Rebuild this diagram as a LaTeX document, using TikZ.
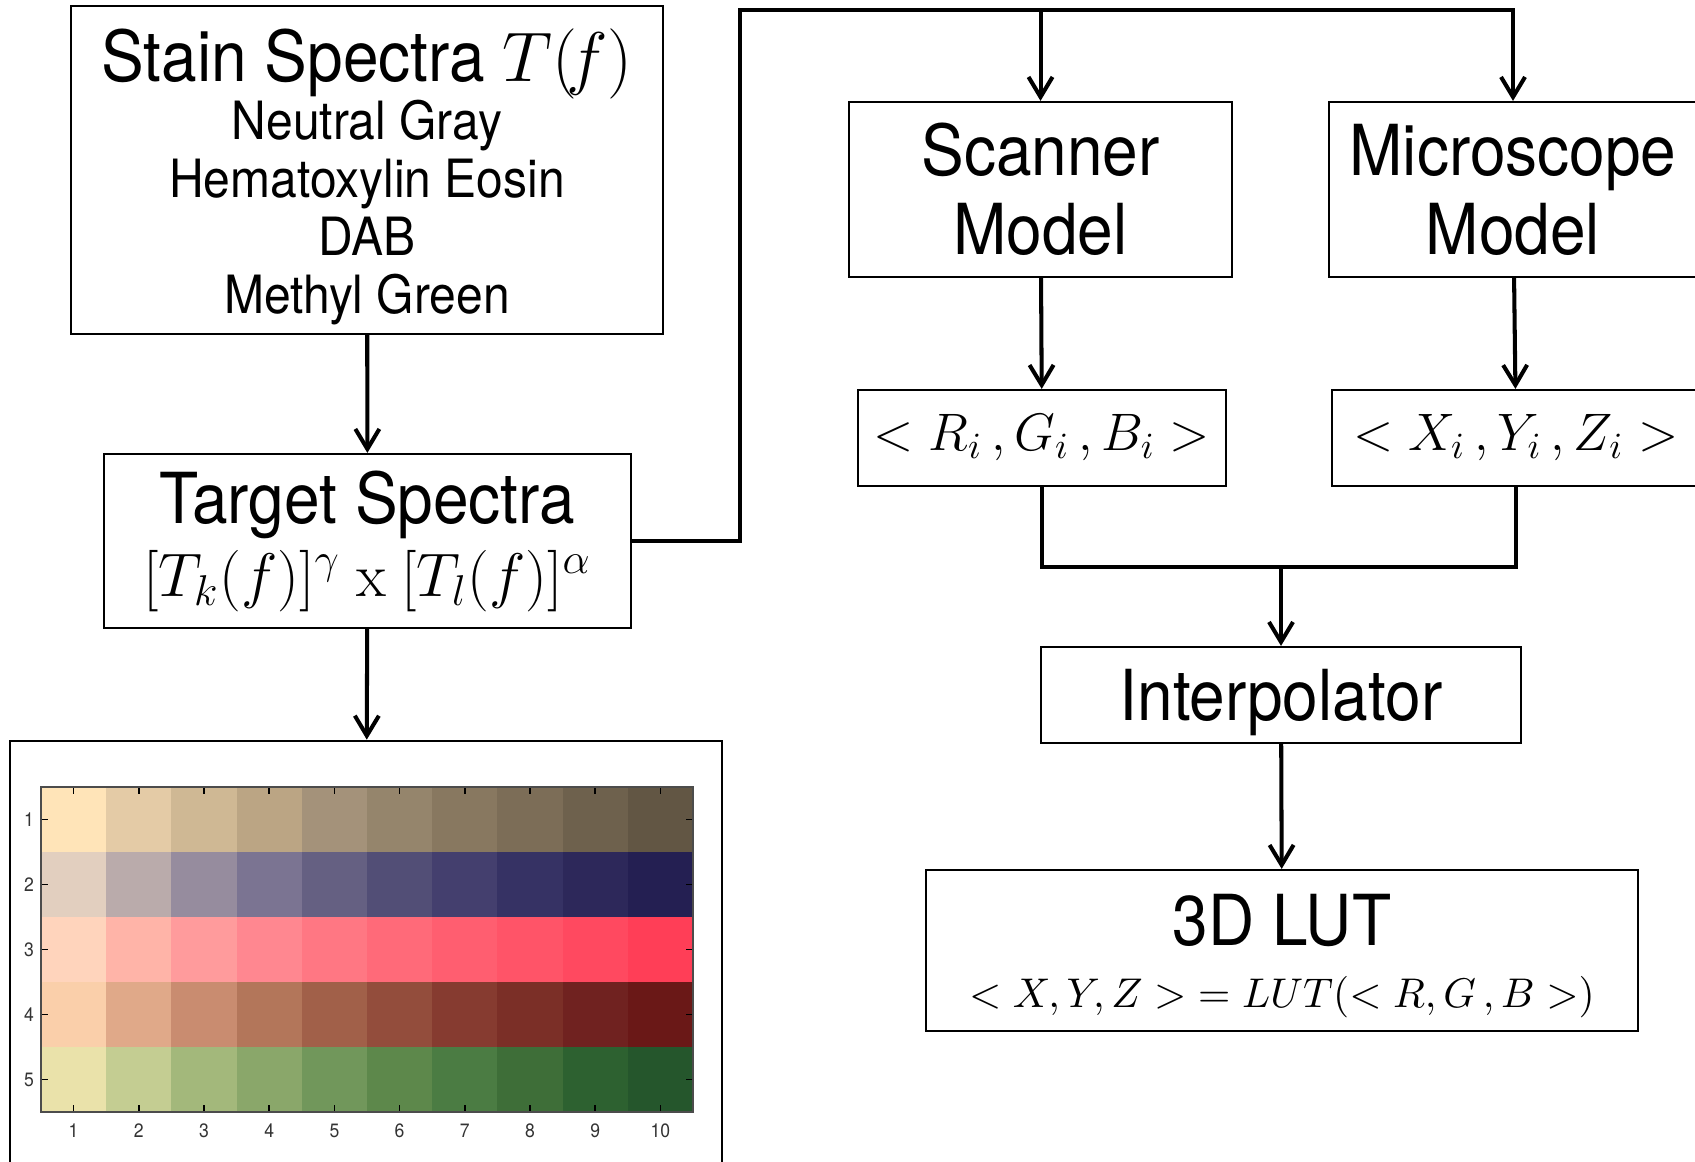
\RequirePackage{fix-cm}
\documentclass[tikz,border=0pt]{standalone}
\usepackage[no-math]{fontspec}
\setmainfont{TeX Gyre Heros}[FakeStretch=0.91]
\usetikzlibrary{arrows.meta}

\begin{document}
\begin{tikzpicture}[x=0.01cm, y=-0.01cm,
 block/.style={draw, line width=0.6pt, inner sep=0pt, align=center},
 big/.style={font=\fontsize{20}{22.5}\selectfont},
 wire/.style={line width=1.15pt},
 flow/.style={wire, -{Straight Barb[length=2mm, width=2.4mm]}},
 tick/.style={inner sep=0pt, text=black!80, font=\fontsize{5.5}{6}\selectfont}]

\useasboundingbox (0,0) rectangle (1695,1161);

 \node (stain) at (367,170) [block, minimum width=5.92cm, minimum height=3.28cm, font=\fontsize{15}{16.5}\selectfont]
 {{\fontsize{20}{20}\selectfont\rule{0pt}{18.7pt}Stain Spectra $T(\!f)$}\\[0pt]
  Neutral Gray\\Hematoxylin Eosin\\DAB\\Methyl Green};
 \node (target) at (367.5,541) [block, minimum width=5.27cm, minimum height=1.74cm, font=\fontsize{20}{20.8}\selectfont]
 {Target Spectra\\{\fontsize{17.5}{20}\selectfont $[T_k(f)]^\gamma\ \mathrm{x}\ [T_l(f)]^\alpha$}};
 \node (chart) at (366,952) [draw, line width=0.7pt, minimum width=7.12cm, minimum height=4.22cm] {};

 \node (scanner) at (1040.5,189.5) [block, big, minimum width=3.83cm, minimum height=1.75cm] {Scanner\\Model};
 \node (micro) at (1513,189.5) [block, big, minimum width=3.68cm, minimum height=1.75cm] {Microscope\\Model};
 \node (rgb) at (1042,438) [block, minimum width=3.68cm, minimum height=0.96cm, font=\fontsize{15}{17}\selectfont]
 {$<R_i\,, G_i\,, B_i>$};
 \node (xyz) at (1516,438) [block, minimum width=3.68cm, minimum height=0.96cm, font=\fontsize{15}{17}\selectfont]
 {$<X_i\,, Y_i\,, Z_i>$};
 \node (interp) at (1281,695) [block, big, text depth=0pt, minimum width=4.8cm, minimum height=0.96cm] {Interpolator};
 \node (lut) at (1282,950.5) [block, minimum width=7.12cm, minimum height=1.61cm, font=\fontsize{20}{17.6}\selectfont]
 {\rule{0pt}{17.5pt}3D LUT\\{\fontsize{11.8}{14}\selectfont $<X, Y, Z>\;= LUT(<R, G\,, B>)$}};

 \coordinate (top) at (740,10);
 \coordinate (join) at (1281,567);

 \draw [flow] (stain) -- (target);
 \draw [flow] (target) -- (chart);
 \draw [flow] (target.east) -| (top) -| (micro.north);
 \draw [flow] (scanner.north |- top) -- (scanner.north);
 \draw [flow] (scanner) -- (rgb);
 \draw [flow] (micro) -- (xyz);
 \draw [wire] (rgb.south) |- (join) -| (xyz.south);
 \draw [flow] (join) -- (interp);
 \draw [flow] (interp) -- (lut);

 \foreach \row [count=\i] in {
  {FFE4B8,E4CBA6,CFB894,BBA584,A4927A,95856C,887860,7C6D57,6E614D,625644},
  {E2CFBF,BAABAB,968C9E,7B7492,656082,524E76,443F6E,363264,2D285A,241F52},
  {FFD4BC,FFB4A8,FF9B9C,FF8790,FF7783,FF6A79,FF5E70,FF5468,FF4960,FF3E57},
  {FACFAA,E0A989,C98C70,B3765A,A16049,934D3C,863B30,7B2F27,702220,6A1817},
  {EAE2AA,C4CD92,A3B87B,8AA76A,71975B,5D884B,4B7C43,3E6E38,2D6130,25562C}} {
  \foreach \c [count=\j] in \row {
	  \definecolor{cell}{HTML}{\c}
	  \fill [cell] (41+65.2*\j-65.2,787+65*\i-65) rectangle ++(65.2,65);
	  }
  \draw [line width=0.5pt] (41,787+65*\i-32.5) -- ++(7,0);
  \draw [line width=0.5pt] (693,787+65*\i-32.5) -- ++(-7,0);
  \node (yl\i) at (29,787+65*\i-32.5) [tick] {\i};
 }
 \foreach \j in {1,...,10} {
  \draw [line width=0.5pt] (41+65.2*\j-32.6,787) -- ++(0,7);
  \draw [line width=0.5pt] (41+65.2*\j-32.6,1112) -- ++(0,-7);
  \node (xl\j) at (41+65.2*\j-32.6,1131) [tick] {\j};
 }
 \draw [black!70, line width=0.4pt] (41,787) rectangle (693,1112);
\end{tikzpicture}
\end{document}
